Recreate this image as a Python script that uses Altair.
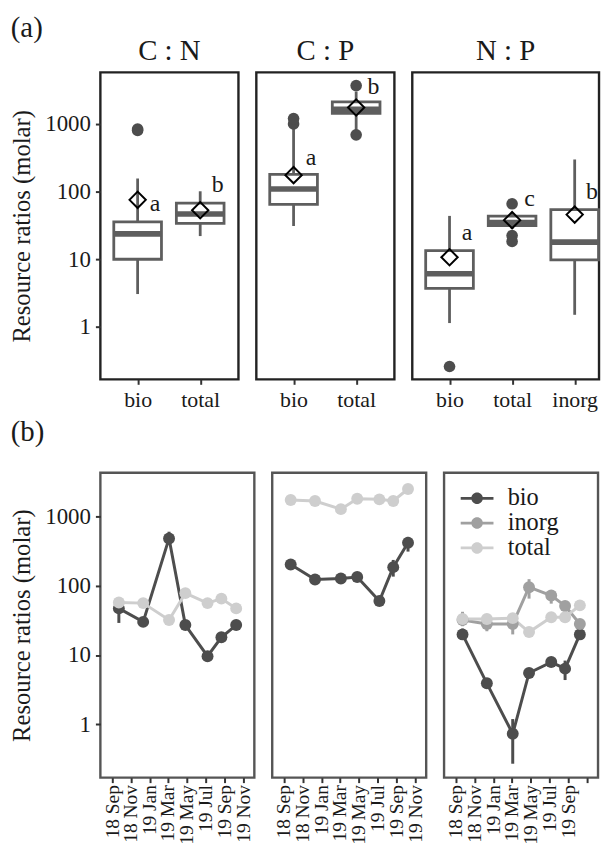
import altair as alt
import pandas as pd

FONT = "Liberation Serif"
TXT = "#1a1a1a"
DARK = "#4d4d4d"
BOXC = "#5e5e5e"

# ---------------- (a) box-plot summaries ----------------
box_ratio = ["C : N", "C : N", "C : P", "C : P", "N : P", "N : P", "N : P"]
box_pool = ["bio", "total", "bio", "total", "bio", "total", "inorg"]
box_lower = [3.06, 22, 31, 800, 1.14, 28, 1.51]
box_q1 = [10, 33.8, 64.7, 1430, 3.7, 31.3, 9.8]
box_median = [23.7, 46.7, 109, 1650, 6.1, 34.9, 17.9]
box_q3 = [35.7, 67.6, 180, 2110, 13.4, 43.3, 54]
box_upper = [156, 101, 860, 3000, 43.7, 48, 298]
box_mean = [75.5, 53, 175, 1750, 10.7, 37.8, 45.7]
box_letter = ["a", "b", "a", "b", "a", "c", "b"]
box_letter_y = [66, 124, 316, 3490, 24.1, 78, 100]

out_ratio = ["C : N", "C : N", "C : P", "C : P", "C : P", "C : P", "N : P", "N : P", "N : P", "N : P"]
out_pool = ["bio", "bio", "bio", "bio", "total", "total", "bio", "total", "total", "total"]
out_value = [800, 840, 1000, 1200, 3680, 689, 0.26, 66, 22.4, 18.3]

# ---------------- (b) time series ----------------
dates = ["2018-09-23T00:00:00", "2018-12-11T00:00:00", "2019-03-05T00:00:00",
         "2019-04-27T00:00:00", "2019-07-08T00:00:00", "2019-08-22T00:00:00",
         "2019-10-09T00:00:00"]

cn_bio = [47, 30, 480, 27, 9.6, 18, 27]
cn_bio_lo = [29, 30, 420, 27, 9.6, 16.5, 25]
cn_bio_hi = [52, 30, 600, 27, 9.6, 19.5, 29]
cn_total = [57, 56, 32, 78, 56, 65, 47]

cp_bio = [202, 123, 127, 133, 60, 185, 417]
cp_bio_lo = [180, 123, 127, 133, 60, 135, 310]
cp_bio_hi = [225, 123, 127, 133, 60, 235, 505]
cp_total = [1718, 1664, 1270, 1794, 1758, 1664, 2478]

np_bio = [19.8, 3.9, 0.73, 5.5, 7.9, 6.35, 19.8]
np_bio_lo = [17, 3.9, 0.27, 5.5, 7.9, 4.35, 17.5]
np_bio_hi = [24, 3.9, 1.19, 5.5, 7.9, 8.3, 22]
np_inorg = [32, 28, 28, 95, 72, 51, 28]
np_inorg_lo = [26, 22, 19.8, 65, 55, 42, 24.5]
np_inorg_hi = [42, 32, 36, 124, 85, 58, 32]
np_total = [33, 33, 34, 21.4, 35, 35, 52]

series_domain = ["bio", "inorg", "total"]
series_colors = ["#4d4d4d", "#a0a0a0", "#cecece"]

# ---------------- frames ----------------
box_df = pd.DataFrame({"ratio": box_ratio, "pool": box_pool, "lower": box_lower, "q1": box_q1,
                       "median": box_median, "q3": box_q3, "upper": box_upper, "mean": box_mean,
                       "letter": box_letter, "letter_y": box_letter_y})
out_df = pd.DataFrame({"ratio": out_ratio, "pool": out_pool, "value": out_value})


def series_frame(name, vals, lo=None, hi=None):
    lo = lo if lo is not None else vals
    hi = hi if hi is not None else vals
    return pd.DataFrame({"date": dates, "series": name, "value": vals, "lo": lo, "hi": hi})


ts_cn = pd.concat([series_frame("bio", cn_bio, cn_bio_lo, cn_bio_hi), series_frame("total", cn_total)])
ts_cp = pd.concat([series_frame("bio", cp_bio, cp_bio_lo, cp_bio_hi), series_frame("total", cp_total)])
ts_np = pd.concat([series_frame("bio", np_bio, np_bio_lo, np_bio_hi),
                   series_frame("inorg", np_inorg, np_inorg_lo, np_inorg_hi),
                   series_frame("total", np_total)])

TOP_H = 309
BOT_H = 307


def y_axis():
    return alt.Axis(values=[1, 10, 100, 1000], format="d", title="Resource ratios (molar)",
                    titleFont=FONT, titleFontSize=24.8, titleFontWeight="normal", titleColor=TXT,
                    titlePadding=10, labelFont=FONT, labelFontSize=23, labelColor=TXT,
                    labelPadding=5, tickSize=5, tickWidth=2, tickColor="#333333",
                    domain=False, grid=False)


def box_panel(r, cats, width, rng, show_y):
    d = box_df[box_df.ratio == r]
    o = out_df[out_df.ratio == r]
    yscale = alt.Scale(type="log", domain=[0.168, 5770], nice=False)
    yax = y_axis() if show_y else None

    def Y(f):
        return alt.Y(f, scale=yscale, axis=yax)

    x = alt.X("pool:N", scale=alt.Scale(type="point", domain=cats, range=rng, padding=0),
              axis=alt.Axis(title=None, labelAngle=0, labelFont=FONT, labelFontSize=22,
                            labelColor=TXT, labelPadding=5, tickSize=5, tickWidth=2,
                            tickColor="#333333", domain=False, grid=False))
    base = alt.Chart(d)
    whisk = base.mark_rule(color=BOXC, strokeWidth=2.8).encode(x=x, y=Y("lower:Q"), y2="upper:Q")
    box = base.mark_bar(size=48, fill="white", stroke=BOXC, strokeWidth=2.8).encode(
        x=x, y=Y("q1:Q"), y2="q3:Q")
    med = base.mark_tick(size=48, thickness=5.6, color=BOXC, opacity=1).encode(x=x, y=Y("median:Q"))
    outl = alt.Chart(o).mark_circle(size=137, color=DARK, opacity=1).encode(x=x, y=Y("value:Q"))
    mean = base.mark_point(shape="diamond", filled=False, size=270, color="black",
                           strokeWidth=2, opacity=1).encode(x=x, y=Y("mean:Q"))
    txt = base.mark_text(align="center", baseline="middle", dx=17.5, font=FONT, fontSize=24,
                         color=TXT).encode(x=x, y=Y("letter_y:Q"), text="letter:N")
    return alt.layer(whisk, box, med, outl, mean, txt).properties(
        width=width, height=TOP_H,
        title=alt.Title(r, font=FONT, fontSize=29, fontWeight="normal", color=TXT, offset=6),
        view=alt.ViewBackground(stroke="#222222", strokeWidth=2.4))


LEG_PATH = ("M-1.65,-0.14L1.65,-0.14L1.65,0.14L-1.65,0.14Z "
            "M-0.58,0A0.58,0.58 0 1,1 0.58,0A0.58,0.58 0 1,1 -0.58,0Z")

tick_vals = [alt.DateTime(year=2018, month=9, date=1), alt.DateTime(year=2018, month=11, date=1),
             alt.DateTime(year=2019, month=1, date=1), alt.DateTime(year=2019, month=3, date=1),
             alt.DateTime(year=2019, month=5, date=1), alt.DateTime(year=2019, month=7, date=1),
             alt.DateTime(year=2019, month=9, date=1), alt.DateTime(year=2019, month=11, date=1)]


def ts_panel(df, width, show_y, legend, last_label=True):
    yscale = alt.Scale(type="log", domain=[0.17, 4260], nice=False)
    yax = y_axis() if show_y else None

    def Y(f):
        return alt.Y(f, scale=yscale, axis=yax)

    label_expr = "datum.label" if last_label else \
        "(month(datum.value) == 10 && year(datum.value) == 2019) ? '' : datum.label"
    x = alt.X("date:T",
              scale=alt.Scale(domain=[alt.DateTime(year=2018, month=7, date=25),
                                      alt.DateTime(year=2019, month=12, date=7)]),
              axis=alt.Axis(values=tick_vals, format="%y %b", labelExpr=label_expr, labelAngle=-90,
                            title=None, labelFont=FONT, labelFontSize=19.5, labelColor=TXT,
                            labelPadding=2, tickSize=5, tickWidth=2, tickColor="#333333",
                            domain=False, grid=False, labelOverlap=False))
    # colour for the points (carries the legend); stroke for lines and error bars
    cscale = alt.Scale(domain=series_domain, range=series_colors)
    sscale = alt.Scale(domain=series_domain[::-1], range=series_colors[::-1])
    base = alt.Chart(df)
    line = base.mark_line(strokeWidth=3).encode(
        x=x, y=Y("value:Q"), stroke=alt.Stroke("series:N", scale=sscale, legend=None))
    err = base.mark_rule(strokeWidth=3).encode(
        x=x, y=Y("lo:Q"), y2="hi:Q", stroke=alt.Stroke("series:N", scale=sscale, legend=None))
    if legend:
        leg = alt.Legend(title=None, orient="none", legendX=21, legendY=13.5, symbolType=LEG_PATH,
                         symbolSize=400, symbolStrokeWidth=0, labelFont=FONT, labelFontSize=24.5,
                         labelColor=TXT, labelOffset=18.5, rowPadding=0, padding=0)
    else:
        leg = None
    pts = base.mark_circle(size=144, opacity=1).encode(
        x=x, y=Y("value:Q"), color=alt.Color("series:N", scale=cscale, legend=leg))
    return alt.layer(line, err, pts).properties(
        width=width, height=BOT_H,
        view=alt.ViewBackground(stroke="#555555", strokeWidth=2.4))


top = alt.hconcat(
    box_panel("C : N", ["bio", "total"], 139, [37.5, 100.5], True),
    box_panel("C : P", ["bio", "total"], 139, [37.5, 100.5], False),
    box_panel("N : P", ["bio", "total", "inorg"], 188, [37.5, 163.5], False),
    spacing=14,
    title=alt.Title("(a)", anchor="start", font=FONT, fontSize=29, fontWeight="normal",
                    color=TXT, offset=-7, dx=2),
)

bottom = alt.hconcat(
    ts_panel(ts_cn, 155, True, False),
    ts_panel(ts_cp, 155, False, False),
    ts_panel(ts_np, 155, False, True, last_label=False),
    spacing=14,
    title=alt.Title("(b)", anchor="start", font=FONT, fontSize=29, fontWeight="normal",
                    color=TXT, offset=25, dx=2),
).resolve_scale(color="independent", stroke="independent").resolve_legend(
    color="independent", stroke="independent")

chart = alt.vconcat(top, bottom, spacing=5).properties(
    padding={"left": 0, "top": 3, "right": 0, "bottom": 0}
).configure(font=FONT, background="white").configure_axis(
    labelFont=FONT, titleFont=FONT
).configure_legend(labelFont=FONT).configure_title(font=FONT).configure_text(font=FONT)

chart.save("out.html", embed_options={"renderer": "svg", "actions": False})
